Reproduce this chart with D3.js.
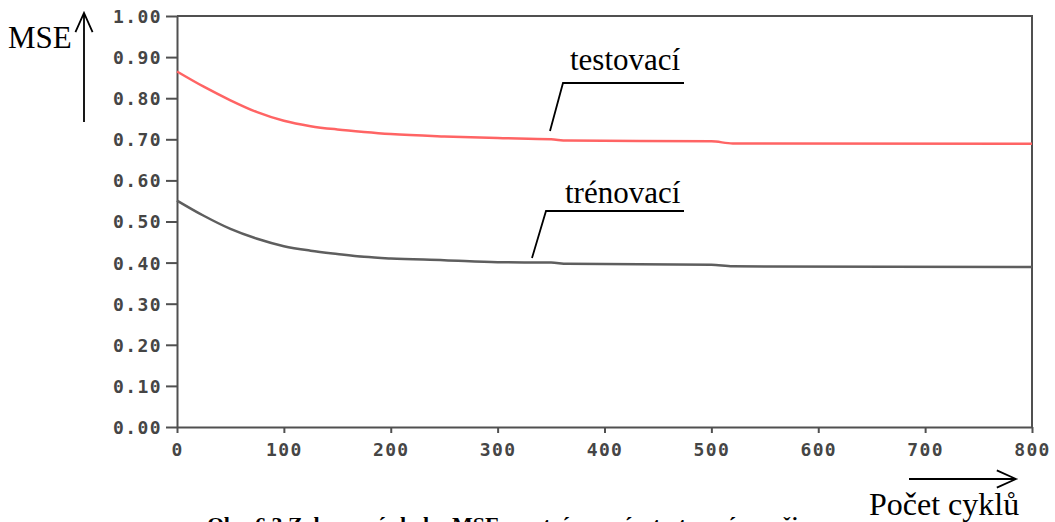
<!DOCTYPE html>
<html>
<head>
<meta charset="utf-8">
<script src="https://cdn.jsdelivr.net/npm/d3@7"></script>
<style>
  html, body { margin: 0; padding: 0; background: #fff; }
  svg { display: block; }
  .tick text { font-family: "DejaVu Sans Mono", monospace; font-size: 18px; font-weight: bold; fill: #454545; letter-spacing: 1.4px; }
  .serif { font-family: "Liberation Serif", "Times New Roman", serif; fill: #000; }
</style>
</head>
<body>
<svg id="chart" width="1055" height="522"></svg>
<script>
// Training cycles at which the error curves were sampled
const cycles = [0, 25, 50, 75, 100, 125, 150, 175, 200, 250, 300, 350, 365, 500, 520, 800];
// MSE on the test set (testovací)
const mseTest = [0.865, 0.828, 0.795, 0.766, 0.745, 0.732, 0.724, 0.718, 0.713, 0.707, 0.703, 0.700, 0.697, 0.695, 0.690, 0.689];
// MSE on the training set (trénovací)
const mseTrain = [0.551, 0.514, 0.482, 0.458, 0.440, 0.429, 0.421, 0.414, 0.410, 0.406, 0.401, 0.400, 0.397, 0.395, 0.391, 0.389];
// Axis ticks
const xTicks = [0, 100, 200, 300, 400, 500, 600, 700, 800];
const yTicks = [0, 0.1, 0.2, 0.3, 0.4, 0.5, 0.6, 0.7, 0.8, 0.9, 1.0];

const svg = d3.select("#chart");
const x = d3.scaleLinear().domain([0, 800]).range([177, 1032]);
const y = d3.scaleLinear().domain([0, 1]).range([427, 16]);
const axisColor = "#505050";

// plot frame (top and right edges)
svg.append("path")
  .attr("d", `M${x(0)},${y(1)}H${x(800)}V${y(0)}`)
  .attr("fill", "none").attr("stroke", axisColor).attr("stroke-width", 2);

// y axis
const gy = svg.append("g")
  .attr("transform", `translate(${x(0)},0)`)
  .call(d3.axisLeft(y).tickValues(yTicks).tickFormat(d3.format(".2f")).tickSize(11).tickPadding(4).tickSizeOuter(0));
// x axis
const gx = svg.append("g")
  .attr("transform", `translate(0,${y(0)})`)
  .call(d3.axisBottom(x).tickValues(xTicks).tickFormat(d3.format("d")).tickSize(6).tickPadding(10).tickSizeOuter(0));

[gx, gy].forEach(g => {
  g.select(".domain").attr("stroke", axisColor).attr("stroke-width", 2);
  g.selectAll(".tick line").attr("stroke", axisColor).attr("stroke-width", 2);
});
gy.selectAll(".tick text").attr("dy", "0.36em");

// error curves
const line = vals => d3.line()
  .x((d, i) => x(cycles[i]))
  .y(d => y(d))
  .curve(d3.curveMonotoneX)(vals);

svg.append("path").attr("d", line(mseTest))
  .attr("fill", "none").attr("stroke", "#ff6464").attr("stroke-width", 2.5);
svg.append("path").attr("d", line(mseTrain))
  .attr("fill", "none").attr("stroke", "#5e5e5e").attr("stroke-width", 2.5);

// series labels with leader lines
function label(text, tx, ty, pts) {
  svg.append("polyline")
    .attr("points", pts.map(p => p.join(",")).join(" "))
    .attr("fill", "none").attr("stroke", "#000").attr("stroke-width", 1.8);
  svg.append("text").attr("class", "serif")
    .attr("x", tx).attr("y", ty).attr("font-size", 31).text(text);
}
label("testovací", 570, 70, [[550, 131], [563, 83], [684, 83]]);
label("trénovací", 565, 203, [[532, 258], [546, 211], [684, 211]]);

// axis titles with arrows
function arrow(x1, y1, x2, y2) {
  const ang = Math.atan2(y2 - y1, x2 - x1);
  const len = 21, spread = 0.42;
  const h1 = [x2 - len * Math.cos(ang - spread), y2 - len * Math.sin(ang - spread)];
  const h2 = [x2 - len * Math.cos(ang + spread), y2 - len * Math.sin(ang + spread)];
  svg.append("path")
    .attr("d", `M${x1},${y1}L${x2},${y2}M${h1[0]},${h1[1]}L${x2},${y2}L${h2[0]},${h2[1]}`)
    .attr("fill", "none").attr("stroke", "#000").attr("stroke-width", 1.8);
}
svg.append("text").attr("class", "serif").attr("x", 8).attr("y", 48).attr("font-size", 31).text("MSE");
arrow(84, 122, 84, 13);

// figure caption
svg.append("text").attr("class", "serif")
  .attr("x", 207).attr("y", 532).attr("font-size", 22).attr("font-weight", "bold")
  .text("Obr. 6.3 Zobrazení chyby MSE pro trénovací a testovací množinu");

svg.append("rect").attr("x", 862).attr("y", 492).attr("width", 165).attr("height", 30).attr("fill", "#fff");
svg.append("text").attr("class", "serif").attr("x", 869).attr("y", 515).attr("font-size", 32).text("Počet cyklů");
arrow(909, 479, 1016, 479);
</script>
</body>
</html>
